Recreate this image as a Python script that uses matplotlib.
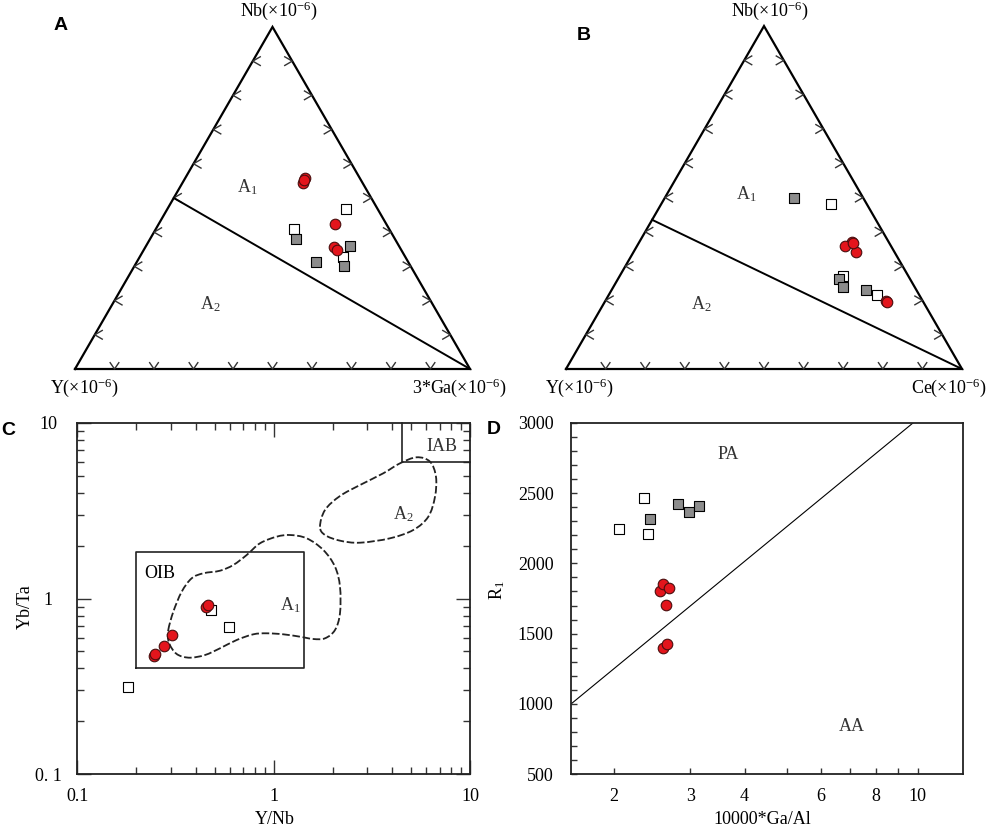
import numpy as np
import matplotlib
matplotlib.use('Agg')
import matplotlib.pyplot as plt
from matplotlib.path import Path
from matplotlib.patches import PathPatch
from matplotlib.ticker import NullFormatter, MultipleLocator, FixedLocator, NullLocator

plt.rcParams['font.family'] = ['Liberation Serif', 'DejaVu Serif']
plt.rcParams['mathtext.fontset'] = 'stix'

# ---------------- data ----------------
# Panel A : Nb - Y - 3*Ga ternary (relative %)
A_red_Nb = [55.9, 54.5, 55.3, 42.3, 35.8, 34.9]
A_red_Y = [13.9, 15.1, 14.4, 13.1, 16.5, 16.1]
A_red_Ga = [30.2, 30.4, 30.3, 44.6, 47.7, 49.0]
A_wht_Nb = [46.7, 40.8, 32.7]
A_wht_Y = [8.0, 24.1, 15.7]
A_wht_Ga = [45.3, 35.1, 51.6]
A_gry_Nb = [38.1, 35.9, 31.2, 30.2]
A_gry_Y = [24.9, 12.4, 23.4, 16.8]
A_gry_Ga = [37.0, 51.7, 45.4, 53.0]
A_div_Nb = [50.0, 0.0]
A_div_Y = [50.0, 0.0]
A_div_Ga = [0.0, 100.0]

# Panel B : Nb - Y - Ce ternary (relative %)
B_red_Nb = [36.9, 36.0, 34.1, 19.7, 19.6, 36.75]
B_red_Y = [9.4, 11.5, 9.75, 9.35, 9.1, 9.25]
B_red_Ce = [53.7, 52.5, 56.15, 70.95, 71.3, 54.0]
B_wht_Nb = [48.2, 27.2, 21.55]
B_wht_Y = [9.0, 16.4, 10.75]
B_wht_Ce = [42.8, 56.4, 67.7]
B_gry_Nb = [49.8, 26.2, 23.8, 22.9]
B_gry_Y = [17.45, 18.0, 18.1, 12.75]
B_gry_Ce = [32.75, 55.8, 58.1, 64.35]
B_div_Nb = [43.5, 0.0]
B_div_Y = [56.5, 0.0]
B_div_Ce = [0.0, 100.0]

tern_ticks = [10, 20, 30, 40, 50, 60, 70, 80, 90]

# Panel C : Y/Nb vs Yb/Ta
C_red_x = [0.246, 0.248, 0.2775, 0.3035, 0.454, 0.463]
C_red_y = [0.471, 0.483, 0.537, 0.617, 0.898, 0.9225]
C_wht_x = [0.182, 0.481, 0.590]
C_wht_y = [0.313, 0.860, 0.686]
OIB_x = [0.2, 1.42, 1.42, 0.2, 0.2]
OIB_y = [0.4, 0.4, 1.85, 1.85, 0.4]
IAB_x = [4.5, 4.5, 10.0]
IAB_y = [10.0, 6.0, 6.0]
A1_x = [0.2906, 0.3083, 0.3402, 0.3825, 0.4383, 0.533, 0.623, 0.7291, 0.852, 1.036,
        1.211, 1.473, 1.79, 2.053, 2.177, 2.177, 2.053, 1.826, 1.592, 1.362,
        1.12, 0.9217, 0.7879, 0.6483, 0.533, 0.4472, 0.375, 0.3269, 0.3027, 0.2906]
A1_y = [0.6618, 0.841, 1.093, 1.303, 1.391, 1.439, 1.551, 1.768, 2.061, 2.247,
        2.297, 2.2, 1.888, 1.517, 1.167, 0.8237, 0.6618, 0.5937, 0.5883, 0.6063,
        0.6256, 0.6339, 0.6256, 0.5807, 0.5208, 0.477, 0.4605, 0.477, 0.5208, 0.5807]
A2_x = [1.722, 1.826, 2.177, 2.753, 3.618, 4.4, 5.352, 6.257, 6.71, 6.633,
        6.133, 5.143, 3.913, 2.753, 2.177, 1.826]
A2_y = [2.561, 3.187, 3.828, 4.421, 5.155, 5.875, 6.357, 6.001, 4.93, 3.794,
        2.92, 2.453, 2.2, 2.077, 2.133, 2.297]

# Panel D : 10000*Ga/Al vs R1
D_red_x = [2.55, 2.604, 2.68, 2.634, 2.604, 2.657]
D_red_y = [1803, 1851, 1827, 1706, 1396, 1427]
D_wht_x = [2.061, 2.35, 2.404]
D_wht_y = [2242, 2467, 2211]
D_gry_x = [2.42, 2.817, 2.975, 3.143]
D_gry_y = [2318, 2419, 2367, 2405]
D_line_x = [1.596, 9.77]
D_line_y = [1000, 3000]

# ---------------- styles ----------------
RED = '#e3151c'
REDEDGE = '#4a0e0e'
GRAY = '#8c8c8c'
S_CIRC = 58
S_SQ = 44
FS = 13

W, H = 989, 827
fig = plt.figure(figsize=(W / 100, H / 100), dpi=100)


def tern(top, left, right):
    top = np.asarray(top, float); left = np.asarray(left, float); right = np.asarray(right, float)
    s = top + left + right
    u = (right + top / 2.0) / s
    v = (top / s) * np.sqrt(3) / 2.0
    return u, v


def ternary_panel(px_left, px_base, px_width, data, div, labels, region_labels):
    h = np.sqrt(3) / 2
    ax = fig.add_axes([px_left / W, (H - px_base) / H, px_width / W, px_width * h / H])
    ax.set_xlim(0, 1)
    ax.set_ylim(0, h)
    ax.axis('off')
    ax.plot([0, 1, 0.5, 0], [0, 0, h, 0], color='black', lw=1.6, clip_on=False,
            solid_joinstyle='miter', zorder=2)
    for t in tern_ticks:
        f = t / 100.0
        ax.plot([f - 0.011, f, f + 0.011], [0.016, 0, 0.016], color='#333333', lw=1.0, clip_on=False)
        xa, ya = f / 2, f * h
        ax.plot([xa + 0.019, xa, xa + 0.019], [ya + 0.011, ya, ya - 0.011], color='#333333', lw=1.0, clip_on=False)
        xb, yb = 1 - f / 2, f * h
        ax.plot([xb - 0.019, xb, xb - 0.019], [yb + 0.011, yb, yb - 0.011], color='#333333', lw=1.0, clip_on=False)
    du, dv = tern(*div)
    ax.plot(du, dv, color='black', lw=1.4, clip_on=False)
    (rN, rY, rR), (wN, wY, wR), (gN, gY, gR) = data
    u, v = tern(wN, wY, wR)
    ax.scatter(u, v, s=S_SQ, marker='s', facecolor='white', edgecolor='black', linewidth=0.8, zorder=4, clip_on=False)
    u, v = tern(gN, gY, gR)
    ax.scatter(u, v, s=S_SQ, marker='s', facecolor=GRAY, edgecolor='black', linewidth=0.8, zorder=4, clip_on=False)
    u, v = tern(rN, rY, rR)
    ax.scatter(u, v, s=S_CIRC, marker='o', facecolor=RED, edgecolor=REDEDGE, linewidth=0.8, zorder=5, clip_on=False)
    top_lab, left_lab, right_lab, lx, rx = labels
    ax.text(0.516, 0.906, top_lab, ha='center', va='center', fontsize=FS)
    ax.text(lx, -0.048, left_lab, ha='center', va='center', fontsize=FS)
    ax.text(rx, -0.048, right_lab, ha='center', va='center', fontsize=FS)
    for (tx, ty, s) in region_labels:
        ax.text(tx, ty, s, ha='center', va='center', fontsize=FS, color='#333333')
    return ax


sup = r'(×10$^{\mathregular{-6}}$)'
A1lab = r'A$_{\mathregular{1}}$'
A2lab = r'A$_{\mathregular{2}}$'

ternary_panel(75, 369, 395,
              [(A_red_Nb, A_red_Y, A_red_Ga), (A_wht_Nb, A_wht_Y, A_wht_Ga), (A_gry_Nb, A_gry_Y, A_gry_Ga)],
              (A_div_Nb, A_div_Y, A_div_Ga),
              ('Nb' + sup, 'Y' + sup, '3*Ga' + sup, 0.025, 0.972),
              [(0.437, 0.459, A1lab), (0.342, 0.165, A2lab)])
ternary_panel(566, 369, 396,
              [(B_red_Nb, B_red_Y, B_red_Ce), (B_wht_Nb, B_wht_Y, B_wht_Ce), (B_gry_Nb, B_gry_Y, B_gry_Ce)],
              (B_div_Nb, B_div_Y, B_div_Ce),
              ('Nb' + sup, 'Y' + sup, 'Ce' + sup, 0.035, 0.968),
              [(0.456, 0.441, A1lab), (0.343, 0.164, A2lab)])


# ---------------- panel C ----------------
def smooth_closed_path(xs, ys):
    lx = np.log10(np.asarray(xs, float)); ly = np.log10(np.asarray(ys, float))
    P = np.column_stack([lx, ly])
    n = len(P)
    verts = [P[0]]
    codes = [Path.MOVETO]
    for i in range(n):
        p0 = P[(i - 1) % n]; p1 = P[i]; p2 = P[(i + 1) % n]; p3 = P[(i + 2) % n]
        c1 = p1 + (p2 - p0) / 6.0
        c2 = p2 - (p3 - p1) / 6.0
        verts += [c1, c2, p2]
        codes += [Path.CURVE4] * 3
    verts = 10 ** np.array(verts)
    return Path(verts, codes)


axC = fig.add_axes([77.3 / W, (H - 774.3) / H, 392.7 / W, 351.6 / H])
axC.set_xscale('log'); axC.set_yscale('log')
axC.set_xlim(0.1, 10); axC.set_ylim(0.1, 10)
axC.xaxis.set_major_locator(FixedLocator([0.1, 1, 10]))
axC.yaxis.set_major_locator(FixedLocator([0.1, 1, 10]))
axC.set_xticklabels(['0.1', '1', '10'])
axC.set_yticklabels(['0. 1', '1', '10'])
axC.xaxis.set_minor_formatter(NullFormatter()); axC.yaxis.set_minor_formatter(NullFormatter())
axC.tick_params(which='both', direction='in', top=True, right=True, width=1.0, color='#333333',
                labelsize=FS)
axC.tick_params(which='major', length=10)
axC.tick_params(which='minor', length=5)
axC.tick_params(axis='x', which='major', pad=10)
axC.tick_params(axis='y', which='major', pad=21)
for lab in axC.get_yticklabels():
    lab.set_horizontalalignment('center')
for sp in axC.spines.values():
    sp.set_linewidth(1.3); sp.set_color('#222222')
axC.plot(OIB_x, OIB_y, color='#222222', lw=1.2)
axC.plot(IAB_x, IAB_y, color='#222222', lw=1.2, clip_on=False)
for cx, cy in ((A1_x, A1_y), (A2_x, A2_y)):
    axC.add_patch(PathPatch(smooth_closed_path(cx, cy), facecolor='none', edgecolor='#222222',
                            lw=1.3, linestyle=(0, (4.2, 1.5))))
axC.scatter(C_wht_x, C_wht_y, s=S_SQ, marker='s', facecolor='white', edgecolor='black', linewidth=0.8, zorder=4)
axC.scatter(C_red_x, C_red_y, s=S_CIRC, marker='o', facecolor=RED, edgecolor=REDEDGE, linewidth=0.8, zorder=5)
axC.text(0.262, 1.38, 'OIB', ha='center', va='center', fontsize=FS)
axC.text(1.22, 0.92, A1lab, ha='center', va='center', fontsize=FS, color='#333333')
axC.text(4.56, 3.0, A2lab, ha='center', va='center', fontsize=FS, color='#333333')
axC.text(7.2, 7.35, 'IAB', ha='center', va='center', fontsize=FS, color='#333333')
fig.text(25 / W, 1 - 606.7 / H, 'Yb/Ta', rotation=90, ha='center', va='center', fontsize=FS)
fig.text(275 / W, 1 - 819.3 / H, 'Y/Nb', ha='center', va='center', fontsize=FS)

# ---------------- panel D ----------------
axD = fig.add_axes([571 / W, (H - 774.3) / H, 391.7 / W, 351.6 / H])
axD.set_xscale('log')
axD.set_xlim(1.596, 12.69); axD.set_ylim(500, 3000)
axD.xaxis.set_major_locator(FixedLocator([2, 3, 4, 5, 6, 7, 8, 9, 10]))
axD.set_xticklabels(['2', '3', '4', '', '6', '', '8', '', '10'])
axD.xaxis.set_minor_locator(NullLocator())
axD.yaxis.set_major_locator(MultipleLocator(500))
axD.yaxis.set_minor_locator(MultipleLocator(100))
axD.tick_params(which='both', direction='in', length=4, width=1.0, color='#333333', labelsize=FS)
axD.tick_params(axis='y', pad=12.5)
axD.tick_params(axis='x', pad=10)
for sp in axD.spines.values():
    sp.set_linewidth(1.3); sp.set_color('#222222')
axD.plot(D_line_x, D_line_y, color='black', lw=0.8)
axD.scatter(D_wht_x, D_wht_y, s=S_SQ, marker='s', facecolor='white', edgecolor='black', linewidth=0.8, zorder=4)
axD.scatter(D_gry_x, D_gry_y, s=S_SQ, marker='s', facecolor=GRAY, edgecolor='black', linewidth=0.8, zorder=4)
axD.scatter(D_red_x, D_red_y, s=S_CIRC, marker='o', facecolor=RED, edgecolor=REDEDGE, linewidth=0.8, zorder=5)
axD.text(3.66, 2775, 'PA', ha='center', va='center', fontsize=FS, color='#333333')
axD.text(7.05, 839, 'AA', ha='center', va='center', fontsize=FS, color='#333333')
fig.text(497 / W, 1 - 590 / H, r'R$_{\mathregular{1}}$', rotation=90, ha='center', va='center', fontsize=FS)
fig.text(762.7 / W, 1 - 819.3 / H, '10000*Ga/Al', ha='center', va='center', fontsize=FS)

# ---------------- panel letters ----------------
for (lx, ly, s) in [(60.5, 25, 'A'), (584, 35, 'B'), (8, 430, 'C'), (494, 429, 'D')]:
    fig.text(lx / W, 1 - ly / H, s, ha='center', va='center', fontsize=14, fontweight='bold',
             family=['Liberation Sans', 'DejaVu Sans'])

fig.savefig('out.png', dpi=100)
